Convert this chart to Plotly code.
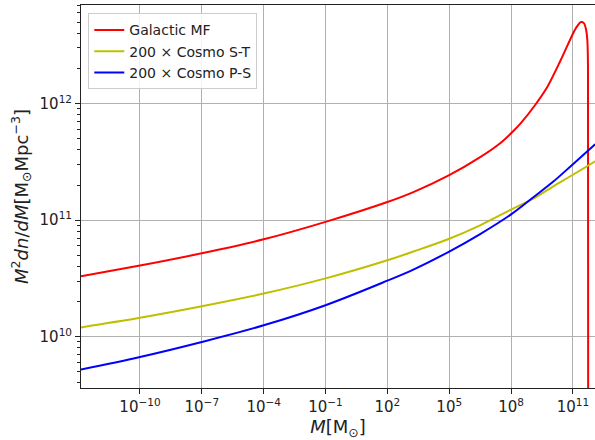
import plotly.graph_objects as go

# ---- data ----
mass_red = [1.38e-13, 1e-10, 1e-7, 1e-4, 1e-1, 1e2, 1.82e3, 1e5, 3.16e6, 2.95e7, 1e8,
            2.9e8, 1.5e9, 5.6e9, 2.5e10, 1e11, 1.55e11, 2.45e11, 3.39e11, 4.27e11,
            5.01e11, 5.37e11, 5.50e11]
galactic_mf = [3.29e10, 4.07e10, 5.19e10, 6.84e10, 9.66e10, 1.43e11, 1.74e11, 2.43e11,
               3.47e11, 4.57e11, 5.56e11, 6.76e11, 9.77e11, 1.38e12, 2.34e12, 3.98e12,
               4.57e12, 5.01e12, 4.90e12, 4.37e12, 3.47e12, 2.04e12, 1.0e9]

mass_cosmo = [1.38e-13, 1e-10, 1e-7, 1e-4, 1e-1, 1e2, 1.82e3, 1e5, 3.16e6, 1e8, 1.2e9,
              1.12e10, 1e11, 1.2e12]
cosmo_st = [1.20e10, 1.45e10, 1.82e10, 2.34e10, 3.16e10, 4.52e10, 5.37e10, 6.92e10,
            9.02e10, 1.23e11, 1.53e11, 1.95e11, 2.45e11, 3.20e11]
cosmo_ps = [5.21e9, 6.68e9, 8.99e9, 1.25e10, 1.86e10, 3.02e10, 3.76e10, 5.37e10,
            7.59e10, 1.12e11, 1.57e11, 2.14e11, 3.02e11, 4.47e11]

x_tick_vals = [1e-10, 1e-7, 1e-4, 1e-1, 1e2, 1e5, 1e8, 1e11]
x_tick_text = ["10<sup>−10</sup>", "10<sup>−7</sup>", "10<sup>−4</sup>", "10<sup>−1</sup>",
               "10<sup>2</sup>", "10<sup>5</sup>", "10<sup>8</sup>", "10<sup>11</sup>"]
y_tick_vals = [1e10, 1e11, 1e12]
y_tick_text = ["10<sup>10</sup>", "10<sup>11</sup>", "10<sup>12</sup>"]
y_minor_vals = [m * 10 ** e for e in (9, 10, 11, 12) for m in range(2, 10)]

FONT = "DejaVu Sans"
TXT = "#222222"

fig = go.Figure()
fig.add_trace(go.Scatter(x=mass_red, y=galactic_mf, mode="lines", name="Galactic MF",
                         line=dict(color="#ff0000", width=2, shape="spline", smoothing=0.8)))
fig.add_trace(go.Scatter(x=mass_cosmo, y=cosmo_st, mode="lines", name="200 × Cosmo S-T",
                         line=dict(color="#bfbf00", width=2, shape="spline", smoothing=1.0)))
fig.add_trace(go.Scatter(x=mass_cosmo, y=cosmo_ps, mode="lines", name="200 × Cosmo P-S",
                         line=dict(color="#0000ff", width=2, shape="spline", smoothing=1.0)))

fig.update_layout(
    width=595, height=440,
    margin=dict(l=81, r=0, t=5, b=52, autoexpand=False),
    paper_bgcolor="white", plot_bgcolor="white",
    font=dict(family=FONT, size=14, color=TXT),
    showlegend=True,
    legend=dict(x=0.0142, y=0.978, xanchor="left", yanchor="top",
                bgcolor="rgba(255,255,255,0.85)", bordercolor="#cccccc", borderwidth=1,
                font=dict(family=FONT, size=14, color=TXT),
                itemwidth=30, tracegroupgap=0),
)

fig.update_xaxes(
    type="log", range=[-12.86, 12.07], automargin=False,
    tickvals=x_tick_vals, ticktext=x_tick_text,
    showgrid=True, gridcolor="#b0b0b0", gridwidth=1,
    showline=True, linecolor=TXT, linewidth=1, mirror=True,
    ticks="outside", ticklen=5, tickcolor=TXT,
    tickfont=dict(family=FONT, size=15, color=TXT),
    title=dict(text="<i>M</i>[M<sub>⊙</sub>]", font=dict(family=FONT, size=18, color=TXT),
               standoff=9),
    zeroline=False,
)
fig.update_yaxes(
    type="log", range=[9.559, 12.846], automargin=False,
    tickvals=y_tick_vals, ticktext=y_tick_text,
    showgrid=True, gridcolor="#b0b0b0", gridwidth=1,
    showline=True, linecolor=TXT, linewidth=1, mirror=False,
    ticks="outside", ticklen=5, tickcolor=TXT,
    minor=dict(tickvals=y_minor_vals, ticks="outside", ticklen=3, tickcolor=TXT,
               showgrid=False),
    tickfont=dict(family=FONT, size=15, color=TXT),
    title=dict(text="<i>M</i><sup>2</sup><i>dn</i>/<i>dM</i>[M<sub>⊙</sub>Mpc<sup>−3</sup>]",
               font=dict(family=FONT, size=18, color=TXT), standoff=6),
    zeroline=False,
)

fig.write_html("out.html", config={"displayModeBar": False},
               post_script="document.body.style.margin='0';document.body.style.overflow='hidden';")
